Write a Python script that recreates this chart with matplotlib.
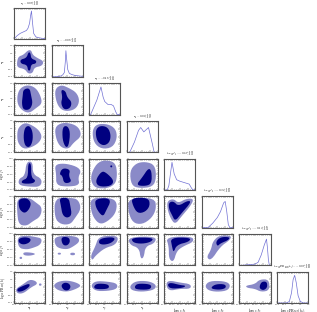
import numpy as np
import matplotlib
matplotlib.use("Agg")
import matplotlib.pyplot as plt
from matplotlib.ticker import AutoMinorLocator

plt.rcParams["mathtext.fontset"] = "cm"
plt.rcParams["font.family"] = "DejaVu Serif"

names = [r"$\gamma_1$", r"$\gamma_2$", r"$\gamma_3$", r"$\gamma_4$",
         r"$\log_{10} f_1$", r"$\log_{10} f_2$", r"$\log_{10} f_3$",
         r"$\log_{10}{\rm PR}_{\rm MS}(k_t)$"]
titles = [r"$\gamma_1 = 0.08^{+0.22}_{-0.23}$",
          r"$\gamma_2 = -0.08^{+0.19}_{-0.16}$",
          r"$\gamma_3 = -0.18^{+0.44}_{-0.26}$",
          r"$\gamma_4 = 0.06^{+0.32}_{-0.37}$",
          r"$\log_{10} f_1 = -0.67^{+0.30}_{-0.12}$",
          r"$\log_{10} f_2 = -0.32^{+0.09}_{-0.23}$",
          r"$\log_{10} f_3 = -0.14^{+0.05}_{-0.16}$",
          r"$\log_{10}{\rm PR}_{\rm MS}(k_t) = -0.07^{+0.08}_{-0.08}$"]
lims = [(-1, 1), (-1, 1), (-1, 1), (-1, 1), (-1, 0), (-1, 0), (-1, 0), (-1, 1)]
ticks = [[-1, -0.5, 0, 0.5, 1]] * 4 + [[-1, -0.75, -0.5, -0.25, 0]] * 3 + [[-1, -0.5, 0, 0.5, 1]]

# 1D marginals: (x, relative density)
d0 = ([-1, -0.8, -0.6, -0.4, -0.2, -0.1, 0, 0.06, 0.12, 0.18, 0.26, 0.4, 0.6, 0.8, 1.0],
      [0.0, 0.12, 0.2, 0.25, 0.3, 0.38, 0.55, 0.8, 0.97, 0.6, 0.2, 0.08, 0.05, 0.03, 0.02])
d1 = ([-1, -0.6, -0.4, -0.28, -0.18, -0.12, -0.08, -0.03, 0.04, 0.14, 0.3, 0.5, 0.8, 1],
      [0.0, 0.01, 0.03, 0.07, 0.15, 0.5, 0.9, 0.6, 0.25, 0.12, 0.08, 0.05, 0.03, 0.02])
d2 = ([-1, -0.9, -0.5, -0.24, -0.1, 0, 0.2, 0.4, 0.56, 0.7, 0.8, 1],
      [0, 0, 0.5, 0.95, 0.6, 0.45, 0.35, 0.35, 0.3, 0.1, 0.0, 0])
d3 = ([-1, -0.8, -0.5, -0.24, -0.1, 0.1, 0.4, 0.64, 0.76, 1],
      [0, 0, 0.35, 0.75, 0.85, 0.7, 0.85, 0.3, 0.0, 0])
d4 = ([-1, -0.9, -0.85, -0.75, -0.68, -0.6, -0.5, -0.35, -0.2, -0.12, -0.08, 0],
      [0, 0, 0.15, 0.95, 0.55, 0.35, 0.3, 0.25, 0.2, 0.05, 0.0, 0])
d5 = ([-1, -0.8, -0.65, -0.5, -0.4, -0.3, -0.25, -0.2, -0.15, -0.1, 0],
      [0, 0, 0.15, 0.35, 0.55, 0.85, 0.9, 0.55, 0.1, 0, 0])
d6 = ([-1, -0.9, -0.7, -0.5, -0.4, -0.3, -0.2, -0.13, -0.1, -0.07, -0.04, 0],
      [0, 0.0, 0.02, 0.04, 0.1, 0.35, 0.7, 0.9, 0.6, 0.2, 0.0, 0])
d7 = ([-1, -0.4, -0.2, -0.06, 0.04, 0.14, 0.24, 0.36, 0.5, 0.7, 1],
      [0, 0, 0.05, 0.35, 0.8, 0.95, 0.7, 0.25, 0.05, 0, 0])
marginals = [d0, d1, d2, d3, d4, d5, d6, d7]

# 2D credible regions, (x, y) in parameter units: 95% (outer) and 68% (inner)
p10_out = [(-0.7, 0.3), (-0.4, 0.4), (-0.1, 0.7), (0.1, 0.7), (0.2, 0.4), (0.5, 0.2), (0.9, 0.0),
           (0.8, -0.3), (0.3, -0.4), (0.2, -0.76), (-0.1, -0.8), (-0.3, -0.5), (-0.8, -0.4), (-0.8, 0.0)]
p10_in = [(-0.6, 0.1), (-0.2, 0.2), (-0.06, 0.6), (0.06, 0.5), (0.1, 0.16), (0.44, 0.04), (0.4, -0.16),
          (0.1, -0.2), (0.04, -0.6), (-0.1, -0.6), (-0.16, -0.24), (-0.56, -0.16)]
p20_out = [(-0.6, 0.7), (-0.1, 0.9), (0.4, 0.7), (0.7, 0.2), (0.8, -0.3), (0.4, -0.6), (0, -0.9),
           (-0.4, -0.8), (-0.76, -0.4), (-0.8, 0.2)]
p20_in = [(-0.4, 0.6), (0, 0.7), (0.1, 0.2), (0.2, -0.3), (0, -0.7), (-0.4, -0.7), (-0.5, -0.3), (-0.44, 0.2)]
p30_out = [(-0.7, 0.6), (-0.3, 0.9), (0.2, 0.7), (0.6, 0.4), (0.8, 0), (0.6, -0.4), (0.1, -0.7),
           (-0.4, -0.8), (-0.76, -0.4), (-0.8, 0.2)]
p30_in = [(-0.3, 0.6), (0, 0.7), (0.2, 0.3), (0.2, -0.3), (0, -0.7), (-0.3, -0.6), (-0.4, 0)]
p40_out = [(-0.2, -0.1), (0.2, -0.1), (0.2, -0.5), (0.8, -0.65), (0.7, -0.9), (0, -0.9), (-0.7, -0.85),
           (-0.7, -0.65), (-0.3, -0.55)]
p40_in = [(-0.1, -0.15), (0.1, -0.15), (0.1, -0.6), (0.4, -0.7), (0.2, -0.8), (-0.5, -0.8), (-0.5, -0.7),
          (-0.1, -0.62)]
p50_out = [(-0.8, -0.05), (0, -0.05), (0.4, -0.2), (0.8, -0.35), (0.7, -0.65), (0.2, -0.8), (-0.2, -0.95),
           (-0.7, -0.9), (-0.8, -0.5)]
p50_in = [(-0.7, -0.1), (-0.2, -0.05), (0.1, -0.2), (0, -0.4), (-0.3, -0.55), (-0.6, -0.45), (-0.7, -0.3)]
p60_out = [(-0.8, -0.1), (-0.2, -0.05), (0.4, -0.1), (0.8, -0.15), (0.7, -0.35), (0.2, -0.45), (-0.2, -0.5),
           (-0.7, -0.45)]
p60_out2 = [(-0.4, -0.58), (0.2, -0.6), (0.4, -0.65), (0, -0.7), (-0.4, -0.68)]
p60_out3 = [(-0.64, -0.73), (-0.48, -0.73), (-0.48, -0.8), (-0.64, -0.8)]
p60_in = [(-0.7, -0.15), (-0.3, -0.1), (0.1, -0.15), (0, -0.28), (-0.4, -0.35), (-0.7, -0.28)]
p70_out = [(-0.9, -0.1), (-0.4, 0.2), (0, 0.5), (0.4, 0.4), (0.5, 0.2), (0.1, 0), (-0.4, -0.4), (-0.8, -0.4)]
p70_out2 = [(0.6, 0.24), (0.76, 0.24), (0.76, 0.1), (0.6, 0.1)]
p70_in = [(-0.8, -0.1), (-0.4, 0.1), (0, 0.24), (0, 0.04), (-0.4, -0.24), (-0.76, -0.3)]

p21_out = [(-0.8, 0.6), (-0.4, 0.9), (0.1, 0.7), (0.6, 0.4), (0.8, -0.1), (0.6, -0.6), (0.1, -0.8),
           (-0.4, -0.7), (-0.7, -0.2)]
p21_in = [(-0.4, 0.6), (-0.1, 0.5), (0, 0.1), (0.3, -0.2), (0.2, -0.6), (-0.2, -0.7), (-0.4, -0.3), (-0.3, 0.1)]
p31_out = [(-0.8, 0.6), (-0.3, 0.9), (0.4, 0.8), (0.8, 0.5), (0.9, 0), (0.4, -0.4), (0.1, -0.8),
           (-0.4, -0.7), (-0.7, -0.2)]
p31_in = [(-0.3, 0.6), (0, 0.7), (0.2, 0.3), (0.1, -0.6), (-0.1, -0.7), (-0.3, -0.2)]
p41_out = [(-0.8, -0.2), (-0.2, -0.15), (0.6, -0.25), (0.9, -0.4), (0.7, -0.6), (0.8, -0.85), (0, -0.9),
           (-0.7, -0.85), (-0.7, -0.5)]
p41_in = [(-0.3, -0.3), (0.2, -0.35), (0.1, -0.55), (0.3, -0.75), (-0.2, -0.8), (-0.3, -0.55), (-0.5, -0.5)]
p51_out = [(-0.8, -0.05), (0.2, -0.05), (0.7, -0.1), (0.9, -0.4), (0.5, -0.7), (0.2, -0.9), (-0.4, -0.9),
           (-0.8, -0.7)]
p51_in = [(-0.5, -0.05), (0.1, -0.05), (0.2, -0.3), (0.3, -0.6), (0, -0.7), (-0.3, -0.6), (-0.4, -0.3)]
p61_out = [(-0.8, -0.1), (0, -0.05), (0.7, -0.1), (0.8, -0.25), (0.4, -0.4), (0, -0.5), (-0.6, -0.45),
           (-0.8, -0.3)]
p61_out2 = [(-0.6, -0.6), (-0.4, -0.6), (-0.4, -0.66), (-0.6, -0.66)]
p61_out3 = [(0.2, -0.6), (0.5, -0.6), (0.5, -0.68), (0.2, -0.68)]
p61_in = [(-0.4, -0.1), (0.1, -0.1), (0.2, -0.25), (0, -0.38), (-0.3, -0.35)]
p71_out = [(-0.9, 0.1), (-0.6, 0.36), (0, 0.44), (0.6, 0.3), (0.9, 0.1), (0.6, -0.1), (0, -0.3), (-0.6, -0.2)]
p71_in = [(-0.4, 0.1), (-0.2, 0.3), (0.1, 0.26), (0.24, 0.04), (0.1, -0.2), (-0.2, -0.2)]

p32_out = [(-0.8, 0.4), (-0.5, 0.8), (0.2, 0.8), (0.7, 0.5), (0.8, -0.1), (0.5, -0.7), (-0.2, -0.8), (-0.7, -0.4)]
p32_in = [(-0.6, 0.4), (-0.3, 0.7), (0.2, 0.6), (0.4, 0.1), (0.3, -0.4), (-0.1, -0.6), (-0.5, -0.3)]
p42_out = [(-0.8, -0.4), (-0.4, -0.1), (0.2, -0.05), (0.7, -0.15), (0.8, -0.5), (0.7, -0.8), (0.2, -0.95),
           (-0.6, -0.95), (-0.9, -0.7)]
p42_in = [(-0.6, -0.7), (-0.2, -0.4), (0.1, -0.45), (0.6, -0.7), (0.4, -0.88), (-0.4, -0.9)]
p42_in2 = [(0.36, -0.22), (0.48, -0.22), (0.48, -0.28), (0.36, -0.28)]
p52_out = [(-0.9, -0.05), (0.4, -0.05), (0.8, -0.2), (0.7, -0.55), (0.2, -0.8), (-0.3, -0.9), (-0.7, -0.7),
           (-0.9, -0.4)]
p52_in = [(-0.6, -0.1), (0.1, -0.05), (0.4, -0.15), (0.1, -0.45), (-0.1, -0.65), (-0.4, -0.5), (-0.6, -0.3)]
p62_out = [(-0.9, -0.7), (-0.6, -0.4), (-0.4, -0.1), (0.4, -0.05), (0.9, -0.1), (0.7, -0.35), (0, -0.45),
           (-0.6, -0.7), (-0.8, -0.85)]
p62_in = [(-0.3, -0.15), (0.4, -0.1), (0.7, -0.15), (0.4, -0.3), (-0.1, -0.35), (-0.4, -0.3)]
p72_out = [(-0.9, 0.1), (-0.6, 0.4), (0.2, 0.36), (0.8, 0.24), (0.8, -0.1), (0.2, -0.24), (-0.6, -0.24)]
p72_in = [(-0.7, 0.04), (-0.5, 0.24), (0.2, 0.2), (0.3, 0), (0.1, -0.12), (-0.6, -0.12)]

p43_out = [(-0.8, -0.4), (-0.4, -0.15), (0.2, -0.1), (0.8, -0.2), (0.9, -0.6), (0.7, -0.9), (-0.2, -0.95),
           (-0.7, -0.85)]
p43_in = [(-0.4, -0.85), (0, -0.6), (0.4, -0.3), (0.6, -0.4), (0.6, -0.8), (0.2, -0.88)]
p53_out = [(-0.9, -0.05), (0.8, -0.05), (0.9, -0.4), (0.6, -0.7), (0, -0.9), (-0.6, -0.85), (-0.9, -0.5)]
p53_in = [(-0.7, -0.05), (0.4, -0.05), (0.5, -0.3), (0.2, -0.5), (-0.3, -0.55), (-0.6, -0.3)]
p63_out = [(-0.9, -0.1), (0.9, -0.08), (0.8, -0.3), (0.2, -0.4), (0.1, -0.75), (-0.1, -0.8), (-0.2, -0.45),
           (-0.8, -0.35)]
p63_in = [(-0.7, -0.12), (0.7, -0.12), (0.6, -0.25), (0, -0.32), (-0.6, -0.28)]
p73_out = [(-0.8, 0.1), (-0.4, 0.4), (0.4, 0.4), (0.9, 0.16), (0.8, -0.16), (0, -0.3), (-0.7, -0.2)]
p73_in = [(-0.5, 0.04), (-0.3, 0.24), (0.5, 0.2), (0.6, 0), (0.4, -0.16), (-0.4, -0.14)]

p54_out = [(-0.9, -0.15), (-0.7, -0.08), (-0.55, -0.22), (-0.3, -0.08), (-0.05, -0.08), (-0.15, -0.3),
           (-0.45, -0.65), (-0.65, -0.9), (-0.8, -0.7), (-0.9, -0.4)]
p54_in = [(-0.85, -0.2), (-0.7, -0.16), (-0.55, -0.32), (-0.25, -0.14), (-0.13, -0.18), (-0.45, -0.55),
          (-0.65, -0.8), (-0.75, -0.6), (-0.85, -0.4)]
p64_out = [(-0.95, -0.1), (-0.1, -0.08), (-0.05, -0.25), (-0.4, -0.4), (-0.6, -0.55), (-0.7, -0.9),
           (-0.85, -0.8), (-0.85, -0.4)]
p64_in = [(-0.8, -0.12), (-0.15, -0.12), (-0.2, -0.25), (-0.6, -0.35), (-0.7, -0.6), (-0.75, -0.4)]
p74_out = [(-0.95, 0.2), (-0.85, 0.44), (-0.5, 0.3), (-0.15, 0.2), (-0.15, -0.1), (-0.5, -0.1), (-0.85, -0.24)]
p74_in = [(-0.9, 0.16), (-0.8, 0.3), (-0.5, 0.14), (-0.3, 0.1), (-0.4, -0.04), (-0.8, -0.1)]

p65_out = [(-0.85, -0.75), (-0.7, -0.5), (-0.65, -0.25), (-0.45, -0.05), (-0.05, -0.05), (-0.1, -0.2),
           (-0.4, -0.4), (-0.7, -0.85)]
p65_in = [(-0.55, -0.25), (-0.4, -0.1), (-0.1, -0.1), (-0.15, -0.2), (-0.4, -0.3), (-0.5, -0.4)]
p75_out = [(-0.9, 0.1), (-0.75, 0.4), (-0.3, 0.4), (-0.08, 0.2), (-0.15, -0.2), (-0.5, -0.3), (-0.8, -0.2)]
p75_in = [(-0.7, 0), (-0.55, 0.2), (-0.25, 0.2), (-0.22, -0.04), (-0.4, -0.16), (-0.65, -0.12)]

p76_out = [(-0.8, 0.1), (-0.5, 0.2), (-0.35, 0.5), (-0.05, 0.5), (-0.03, -0.2), (-0.3, -0.3), (-0.5, -0.1),
           (-0.75, -0.04)]
p76_in = [(-0.35, 0.1), (-0.28, 0.36), (-0.12, 0.36), (-0.1, 0), (-0.22, -0.2), (-0.34, -0.1)]

regions = {
    (1, 0): ([p10_out], [p10_in]), (2, 0): ([p20_out], [p20_in]), (3, 0): ([p30_out], [p30_in]),
    (4, 0): ([p40_out], [p40_in]), (5, 0): ([p50_out], [p50_in]),
    (6, 0): ([p60_out, p60_out2, p60_out3], [p60_in]), (7, 0): ([p70_out, p70_out2], [p70_in]),
    (2, 1): ([p21_out], [p21_in]), (3, 1): ([p31_out], [p31_in]), (4, 1): ([p41_out], [p41_in]),
    (5, 1): ([p51_out], [p51_in]), (6, 1): ([p61_out, p61_out2, p61_out3], [p61_in]),
    (7, 1): ([p71_out], [p71_in]),
    (3, 2): ([p32_out], [p32_in]), (4, 2): ([p42_out], [p42_in, p42_in2]), (5, 2): ([p52_out], [p52_in]),
    (6, 2): ([p62_out], [p62_in]), (7, 2): ([p72_out], [p72_in]),
    (4, 3): ([p43_out], [p43_in]), (5, 3): ([p53_out], [p53_in]), (6, 3): ([p63_out], [p63_in]),
    (7, 3): ([p73_out], [p73_in]),
    (5, 4): ([p54_out], [p54_in]), (6, 4): ([p64_out], [p64_in]), (7, 4): ([p74_out], [p74_in]),
    (6, 5): ([p65_out], [p65_in]), (7, 5): ([p75_out], [p75_in]),
    (7, 6): ([p76_out], [p76_in]),
}


def smooth(pts, n=2):
    # Chaikin corner cutting on a closed polygon
    p = np.asarray(pts, float)
    for _ in range(n):
        q = np.roll(p, -1, axis=0)
        p = np.column_stack([0.75 * p + 0.25 * q, 0.25 * p + 0.75 * q]).reshape(-1, 2)
    return p


dark = "#000080"
light = "#8a8ac8"
npar = len(names)

fig, axes = plt.subplots(npar, npar, figsize=(3.17, 3.12), dpi=100)
fig.subplots_adjust(left=0.044, right=0.972, bottom=0.029, top=0.975, wspace=0.2, hspace=0.2)

for i in range(npar):
    for j in range(npar):
        ax = axes[i, j]
        if j > i:
            ax.axis("off")
            continue
        ax.set_xlim(lims[j])
        ax.set_xticks(ticks[j])
        if i == j:
            x, y = marginals[i]
            ax.plot(x, y, color="#7070d4", lw=0.5)
            ax.set_ylim(0, 1.08)
            ax.set_yticks([])
            ax.set_title(titles[i], fontsize=2.2, pad=0.5)
        else:
            outs, ins = regions[(i, j)]
            for poly in outs:
                s = smooth(poly)
                ax.fill(s[:, 0], s[:, 1], color=light, lw=0)
            for poly in ins:
                s = smooth(poly)
                ax.fill(s[:, 0], s[:, 1], color=dark, lw=0)
            ax.set_ylim(lims[i])
            ax.set_yticks(ticks[i])
            ax.yaxis.set_minor_locator(AutoMinorLocator(4))
        ax.xaxis.set_minor_locator(AutoMinorLocator(4))
        ax.tick_params(which="both", direction="in", top=True, right=True,
                       width=0.3, labelsize=1.5, pad=0.5, colors="#333333")
        ax.tick_params(which="major", length=1.4)
        ax.tick_params(which="minor", length=0.7)
        for sp in ax.spines.values():
            sp.set_linewidth(0.8)
            sp.set_color("#555555")
        if i == npar - 1:
            ax.set_xlabel(names[j], fontsize=2.7, labelpad=1.0)
        else:
            ax.set_xticklabels([])
        if j == 0 and i > 0:
            ax.set_ylabel(names[i], fontsize=2.4, labelpad=0.5)
        elif i != j:
            ax.set_yticklabels([])

fig.savefig("out.png", dpi=100)
